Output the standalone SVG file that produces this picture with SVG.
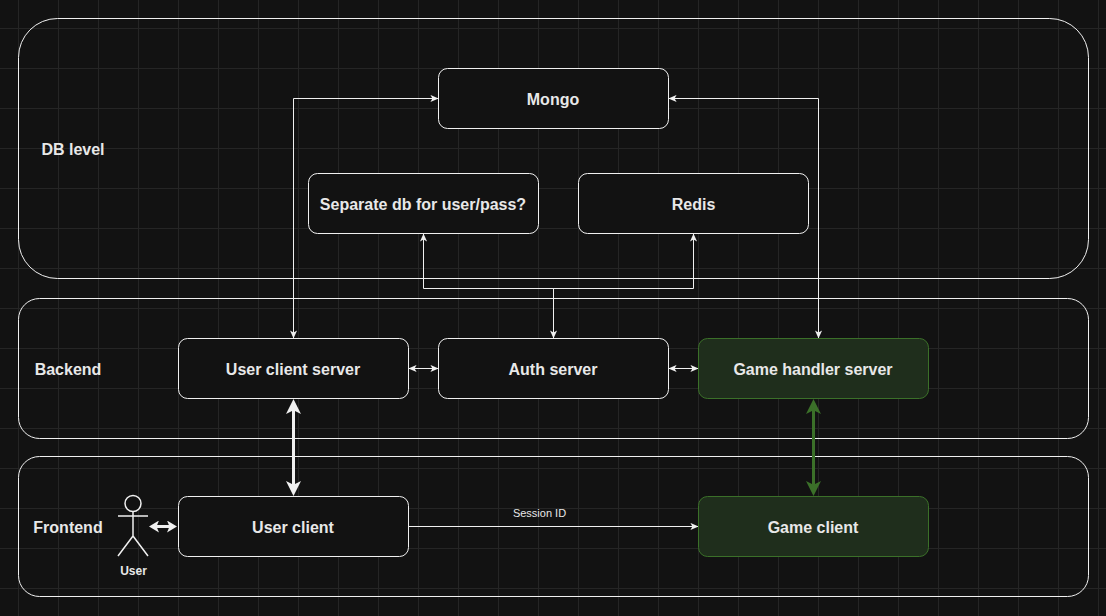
<svg xmlns="http://www.w3.org/2000/svg" width="1106" height="616" viewBox="0 0 1106 616">
<style>
text{font-family:"Liberation Sans",Arial,sans-serif;font-weight:700;fill:#e8e8e8;text-anchor:middle}
.n{font-size:16px}
.z{fill:none;stroke:#f0f0f0;stroke-width:1}
.b{fill:#121212;stroke:#f0f0f0;stroke-width:1}
.g{fill:#1f2e1c;stroke:#3b7029;stroke-width:1}
.e{fill:none;stroke:#f0f0f0;stroke-width:1}
.t{fill:none;stroke:#f0f0f0;stroke-width:3}
.v{fill:none;stroke:#3b7029;stroke-width:3}
</style>
<defs>
<pattern id="minor" width="10" height="10" patternUnits="userSpaceOnUse" x="8" y="8"><path d="M10.5 0V10M0 10.5H10" fill="none" stroke="#171717" stroke-width="1"/></pattern>
<pattern id="major" width="40" height="40" patternUnits="userSpaceOnUse" x="18" y="28"><path d="M.5 0V40M0 .5H40" fill="none" stroke="#252525" stroke-width="1"/></pattern>
<marker id="a" viewBox="0 0 10 10" refX="9.500" refY="5" markerWidth="8" markerHeight="8" markerUnits="userSpaceOnUse" orient="auto-start-reverse"><path d="M0 .5L10 5L0 9.500L2.500 5Z" fill="#f0f0f0"/></marker>
<marker id="at" viewBox="0 0 10 10" refX="3" refY="5" markerWidth="15" markerHeight="15" markerUnits="userSpaceOnUse" orient="auto-start-reverse"><path d="M0 0L10 5L0 10L2.500 5Z" fill="#f0f0f0"/></marker>
<marker id="ag" viewBox="0 0 10 10" refX="3" refY="5" markerWidth="15" markerHeight="15" markerUnits="userSpaceOnUse" orient="auto-start-reverse"><path d="M0 0L10 5L0 10L2.500 5Z" fill="#3b7029"/></marker>
<marker id="as" viewBox="0 0 10 10" refX="3" refY="5" markerWidth="10" markerHeight="12" markerUnits="userSpaceOnUse" orient="auto-start-reverse" preserveAspectRatio="none"><path d="M0 0L10 5L0 10L2.500 5Z" fill="#f0f0f0"/></marker>
</defs>
<rect width="1106" height="616" fill="#121212"/>
<rect width="1106" height="616" fill="url(#minor)"/>
<rect width="1106" height="616" fill="url(#major)"/>
<g id="zone-db"><rect class="z" x="18.5" y="18.5" width="1070" height="260" rx="39" ry="39"/><text class="n" x="73" y="154.500">DB level</text></g>
<g id="zone-backend"><rect class="z" x="18.5" y="298.500" width="1070" height="140" rx="21" ry="21"/><text class="n" x="68" y="374.500">Backend</text></g>
<g id="zone-frontend"><rect class="z" x="18.5" y="456.500" width="1070" height="140" rx="21" ry="21"/><text class="n" x="68" y="532.500">Frontend</text></g>
<g id="connectors">
<path class="e" d="M464.500 128V129"/>
<path class="e" d="M293.500 338V98.500H438" marker-start="url(#a)" marker-end="url(#a)"/>
<path class="e" d="M818.500 338V98.500H669" marker-start="url(#a)" marker-end="url(#a)"/>
<path class="e" d="M553.500 338V288.500H423.500V234" marker-end="url(#a)"/>
<path class="e" d="M553.500 338V288.500H693.500V234" marker-start="url(#a)" marker-end="url(#a)"/>
<path class="e" d="M409 368.500H438" marker-start="url(#a)" marker-end="url(#a)"/>
<path class="e" d="M669 368.500H698" marker-start="url(#a)" marker-end="url(#a)"/>
<path class="t" d="M293.500 409.500V485.500" marker-start="url(#at)" marker-end="url(#at)"/>
<path class="v" d="M813.500 409.500V485.500" marker-start="url(#ag)" marker-end="url(#ag)"/>
<path class="t" d="M156 526.500H170" marker-start="url(#as)" marker-end="url(#as)"/>
<path class="e" d="M409 526.500H698" marker-end="url(#a)"/>
<text x="539.500" y="517" style="font-size:11px;font-weight:400">Session ID</text>
</g>
<g id="mongo"><rect class="b" x="438.500" y="68.500" width="230" height="60" rx="9"/><text class="n" x="553" y="104.500">Mongo</text></g>
<g id="separate-db"><rect class="b" x="308.500" y="173.500" width="230" height="60" rx="9"/><text class="n" x="423" y="209.500">Separate db for user/pass?</text></g>
<g id="redis"><rect class="b" x="578.500" y="173.500" width="230" height="60" rx="9"/><text class="n" x="693.500" y="209.500">Redis</text></g>
<g id="user-client-server"><rect class="b" x="178.500" y="338.500" width="230" height="60" rx="9"/><text class="n" x="293" y="374.500">User client server</text></g>
<g id="auth-server"><rect class="b" x="438.500" y="338.500" width="230" height="60" rx="9"/><text class="n" x="553" y="374.500">Auth server</text></g>
<g id="game-handler-server"><rect class="g" x="698.500" y="338.500" width="230" height="60" rx="9"/><text class="n" x="813" y="374.500">Game handler server</text></g>
<g id="user-client"><rect class="b" x="178.500" y="496.500" width="230" height="60" rx="9"/><text class="n" x="293" y="532.500">User client</text></g>
<g id="game-client"><rect class="g" x="698.500" y="496.500" width="230" height="60" rx="9"/><text class="n" x="813" y="532.500">Game client</text></g>
<g id="user"><circle cx="133" cy="503.500" r="8" fill="#121212" stroke="#f0f0f0" stroke-width="1.500"/><path d="M133 511.500V536M118 516H148M133 536L118 556M133 536L148 556" fill="none" stroke="#f0f0f0" stroke-width="1.500"/><text x="133.500" y="575" style="font-size:12px">User</text></g>
</svg>
